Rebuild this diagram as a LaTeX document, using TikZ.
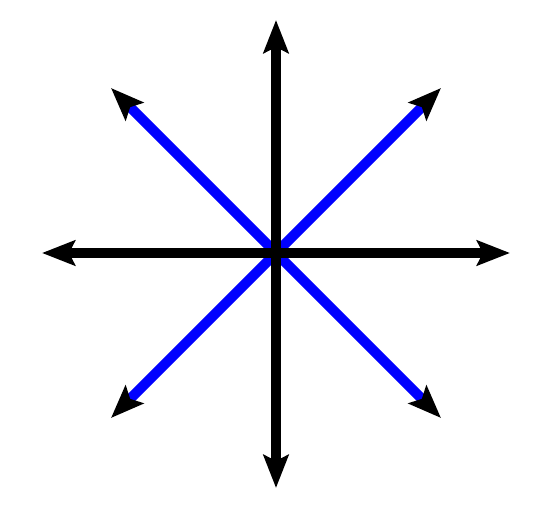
\documentclass[tikz,border=0pt]{standalone}
\usetikzlibrary{arrows.meta}
\begin{document}
\begin{tikzpicture}[x=1pt,y=1pt,
  vec/.style={line width=10pt,-{Stealth[length=33pt,width=25pt,inset=6pt,black]}},
  bluevec/.style={vec,draw=blue},
  blackvec/.style={vec,draw=black}]
\useasboundingbox (-276,-260) rectangle (276,253);
\coordinate (o) at (0,0);
\coordinate (n) at (0,233);
\coordinate (s) at (0,-235);
\coordinate (e) at (234,0);
\coordinate (w) at (-234,0);
\coordinate (ne) at (165,165);
\coordinate (nw) at (-165,165);
\coordinate (se) at (165,-165);
\coordinate (sw) at (-165,-165);
\draw[bluevec] (o) -- (ne);
\draw[bluevec] (o) -- (nw);
\draw[bluevec] (o) -- (se);
\draw[bluevec] (o) -- (sw);
\draw[blackvec] (o) -- (n);
\draw[blackvec] (o) -- (s);
\draw[blackvec] (o) -- (e);
\draw[blackvec] (o) -- (w);
\end{tikzpicture}
\end{document}
